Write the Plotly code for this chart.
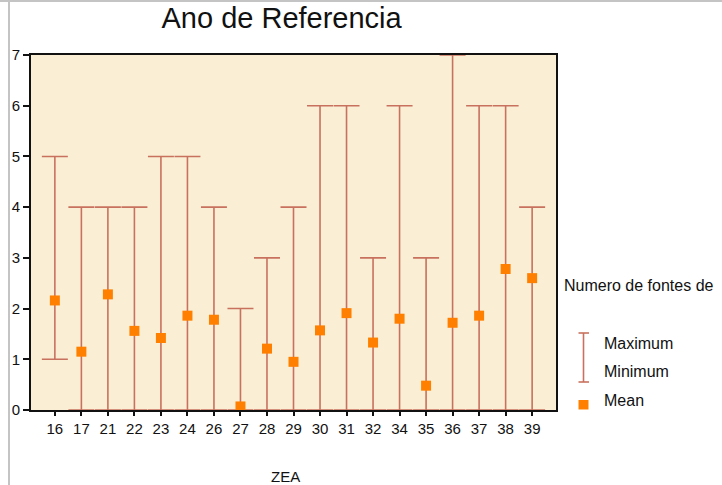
import plotly.graph_objects as go

# Zone codes (ZEA) and the number-of-sources statistics per zone
zea = ["16", "17", "21", "22", "23", "24", "26", "27", "28", "29",
       "30", "31", "32", "34", "35", "36", "37", "38", "39"]
maximum = [5, 4, 4, 4, 5, 5, 4, 2, 3, 4, 6, 6, 3, 6, 3, 7, 6, 6, 4]
minimum = [1, 0, 0, 0, 0, 0, 0, 0, 0, 0, 0, 0, 0, 0, 0, 0, 0, 0, 0]
mean = [2.16, 1.15, 2.28, 1.56, 1.42, 1.86, 1.78, 0.07, 1.21, 0.95,
        1.57, 1.91, 1.33, 1.80, 0.48, 1.72, 1.86, 2.78, 2.60]
y_ticks = [0, 1, 2, 3, 4, 5, 6, 7]

WHISKER = "#C8715E"
MARK = "#FF8000"
FONT = "Liberation Sans, Arial, sans-serif"

fig = go.Figure()

# Min-max range: anchored at the maximum, extending down to the minimum
fig.add_trace(go.Scatter(
    x=zea, y=maximum, mode="markers",
    marker=dict(size=1, color="rgba(0,0,0,0)"),
    error_y=dict(type="data", symmetric=False,
                 array=[0] * len(zea),
                 arrayminus=[mx - mn for mx, mn in zip(maximum, minimum)],
                 color=WHISKER, thickness=1.6, width=13),
    cliponaxis=False, showlegend=False, hoverinfo="skip",
))

# Mean markers
fig.add_trace(go.Scatter(
    x=zea, y=mean, mode="markers",
    marker=dict(symbol="square", size=10, color=MARK, line=dict(width=0)),
    cliponaxis=False, showlegend=False,
))

fig.update_layout(
    width=722, height=485,
    margin=dict(l=31, r=166, t=55, b=75),
    paper_bgcolor="white",
    plot_bgcolor="#FAEFD4",
    font=dict(family=FONT, size=15, color="#111111"),
    title=dict(text="Ano de Referencia", x=0.39, xanchor="center",
               y=0.963, yanchor="middle",
               font=dict(family=FONT, size=29, color="#111111")),
    showlegend=False,
)

fig.update_xaxes(
    type="category", range=[-0.9, 18.9],
    showgrid=False, zeroline=False,
    showline=True, linecolor="#111111", linewidth=2, mirror=True,
    ticks="outside", ticklen=4, tickwidth=1.5, tickcolor="#111111",
    tickfont=dict(size=15),
)
fig.update_yaxes(
    range=[0, 7], tickvals=y_ticks,
    showgrid=False, zeroline=False,
    showline=True, linecolor="#111111", linewidth=2, mirror=True,
    ticks="outside", ticklen=6, tickwidth=2, tickcolor="#111111",
    tickfont=dict(size=15),
)

# X axis title
fig.add_annotation(text="ZEA", xref="paper", yref="paper",
                   x=0.484, y=-0.186, showarrow=False,
                   xanchor="center", yanchor="middle", font=dict(size=15))

# Legend drawn beside the plot
px_w, px_h = 525.0, 355.0


def px_x(px):
    return (px - 31) / px_w


def px_y(py):
    return (410 - py) / px_h


fig.add_annotation(text="Numero de fontes de", xref="paper", yref="paper",
                   x=px_x(562), y=px_y(285), showarrow=False,
                   xanchor="left", yanchor="middle", font=dict(size=16))
for label, py in (("Maximum", 343), ("Minimum", 371.5), ("Mean", 400.5)):
    fig.add_annotation(text=label, xref="paper", yref="paper",
                       x=px_x(602), y=px_y(py), showarrow=False,
                       xanchor="left", yanchor="middle", font=dict(size=16))

line_style = dict(color=WHISKER, width=1.6)
fig.add_shape(type="line", xref="paper", yref="paper",
              x0=px_x(583.5), x1=px_x(583.5), y0=px_y(333), y1=px_y(382),
              line=line_style)
for py in (333, 382):
    fig.add_shape(type="line", xref="paper", yref="paper",
                  x0=px_x(578.5), x1=px_x(589), y0=px_y(py), y1=px_y(py),
                  line=line_style)
fig.add_shape(type="rect", xref="paper", yref="paper",
              x0=px_x(578.5), x1=px_x(588.5), y0=px_y(400), y1=px_y(409.5),
              fillcolor=MARK, line=dict(width=0))

# Page frame along the top and left edges
frame = dict(color="#C4C4C4", width=2)
fig.add_shape(type="line", xref="paper", yref="paper",
              x0=px_x(0), x1=px_x(722), y0=px_y(1), y1=px_y(1), line=frame)
fig.add_shape(type="line", xref="paper", yref="paper",
              x0=px_x(9), x1=px_x(9), y0=px_y(0), y1=px_y(485), line=frame)

fig.write_html("out.html")
